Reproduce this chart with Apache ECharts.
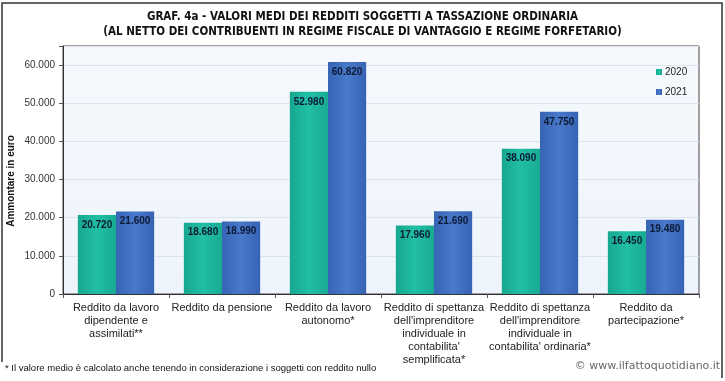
<!DOCTYPE html>
<html><head><meta charset="utf-8">
<script src="https://cdn.jsdelivr.net/npm/echarts@6/dist/echarts.min.js"></script>
<style>html,body{margin:0;padding:0;background:#fff}#c{width:725px;height:381px}</style>
</head><body><div id="c"></div>
<script>
const categories = [
  "Reddito da lavoro\ndipendente e\nassimilati**",
  "Reddito da pensione",
  "Reddito da lavoro\nautonomo*",
  "Reddito di spettanza\ndell'imprenditore\nindividuale in\ncontabilita'\nsemplificata*",
  "Reddito di spettanza\ndell'imprenditore\nindividuale in\ncontabilita' ordinaria*",
  "Reddito da\npartecipazione*"
];
const values2020 = [20720, 18680, 52980, 17960, 38090, 16450];
const values2021 = [21600, 18990, 60820, 21690, 47750, 19480];
const seriesNames = ["2020", "2021"];
const yTicks = [0, 10000, 20000, 30000, 40000, 50000, 60000];

function fmt(v){ return String(v).replace(/\B(?=(\d{3})+(?!\d))/g, '.'); }
function grad(a,b,c){
  return {type:'linear',x:0,y:0,x2:1,y2:0,colorStops:[{offset:0,color:a},{offset:0.5,color:b},{offset:1,color:c}]};
}
const chart = echarts.init(document.getElementById('c'), null, {renderer:'canvas'});
const labelCfg = {show:true, position:'insideTop', distance:5, fontFamily:'Liberation Sans', fontWeight:'bold', fontSize:10, color:'#0d1a35', formatter:p=>fmt(p.value)};
chart.setOption({
  animation:false,
  title:{
    text:"GRAF. 4a - VALORI MEDI DEI REDDITI SOGGETTI A TASSAZIONE ORDINARIA\n(AL NETTO DEI CONTRIBUENTI IN REGIME FISCALE DI VANTAGGIO E REGIME FORFETARIO)",
    left:'center', top:5,
    textStyle:{fontFamily:"'Liberation Sans Narrow','DejaVu Sans Condensed'", fontWeight:'bold', fontSize:11.5, lineHeight:15, color:'#111'}
  },
  legend:{
    data:seriesNames, orient:'vertical', left:651, top:62, itemWidth:6, itemHeight:6, itemGap:10,
    icon:'rect', textStyle:{fontFamily:'Liberation Sans', fontSize:10, color:'#222', padding:[0,0,0,-2]}
  },
  grid:{left:63, right:26, top:46, bottom:87, show:true, borderColor:'#444', borderWidth:1,
    backgroundColor:{type:'linear',x:0,y:0,x2:0,y2:1,colorStops:[{offset:0,color:'#f5f9fd'},{offset:1,color:'#eef4fb'}]}},
  xAxis:{
    type:'category', data:categories,
    axisLine:{lineStyle:{color:'#333'}},
    axisTick:{show:true, length:4, lineStyle:{color:'#555'}},
    axisLabel:{interval:0, fontFamily:'Liberation Sans', fontSize:11, lineHeight:13, color:'#222', margin:7}
  },
  yAxis:{
    type:'value', min:0, max:65000, interval:10000,
    axisLine:{show:true, lineStyle:{color:'#333'}},
    axisTick:{show:true, length:4, lineStyle:{color:'#555'}},
    splitLine:{lineStyle:{color:'#dde3ea'}},
    axisLabel:{fontFamily:'Liberation Sans', fontSize:10, color:'#333', margin:8,
      formatter:v=> yTicks.indexOf(v) >= 0 ? fmt(v) : ''}
  },
  series:[
    {name:seriesNames[0], type:'bar', data:values2020, barGap:'0%', barCategoryGap:'28%',
      itemStyle:{color:grad('#17a78f','#21bfa4','#18aa92')}, label:labelCfg},
    {name:seriesNames[1], type:'bar', data:values2021,
      itemStyle:{color:grad('#3764b5','#4979ca','#3763b3')}, label:labelCfg}
  ],
  graphic:[
    {type:'polyline', shape:{points:[[2,362],[2,3],[722,3],[722,378]]}, style:{stroke:'#333', lineWidth:1.5, fill:null}, silent:true},
    {type:'text', x:11, y:181, rotation:Math.PI/2, style:{text:'Ammontare in euro', font:"bold 10px 'Liberation Sans'", fill:'#111', textAlign:'center', textVerticalAlign:'middle'}},
    {type:'text', x:5, y:368, style:{text:'* Il valore medio è calcolato anche tenendo in considerazione i soggetti con reddito nullo', font:"9.5px 'Liberation Sans Narrow','Liberation Sans'", fill:'#111', textVerticalAlign:'middle'}},
    {type:'text', x:720, y:366, style:{text:'© www.ilfattoquotidiano.it', font:"11px 'DejaVu Sans'", fill:'#666', textAlign:'right', textVerticalAlign:'middle'}}
  ]
});
</script></body></html>
